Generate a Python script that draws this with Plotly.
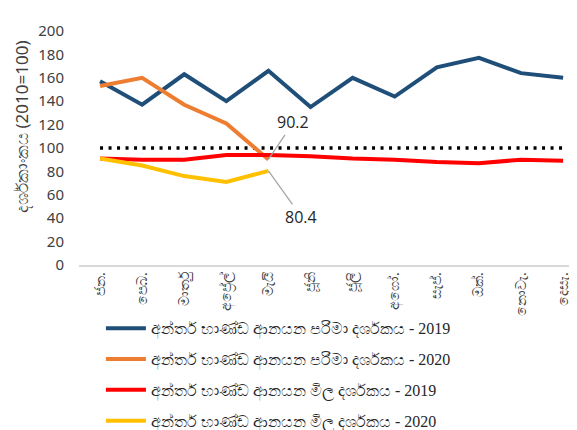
import plotly.graph_objects as go

months = ["ජන.", "පෙබ.", "මාර්තු", "අප්‍රේල්", "මැයි", "ජූනි", "ජූලි", "අගෝ.", "සැප්.", "ඔක්.", "නොවැ.", "දෙසැ."]
vol_2019 = [157, 137, 163, 140, 166, 135, 160, 144, 169, 177, 164, 160]
vol_2020 = [153, 160, 137, 121, 90.2]
price_2019 = [91, 90, 90, 94, 94, 93, 91, 90, 88, 87, 90, 89]
price_2020 = [91, 85, 76, 71, 80.4]
base_line = [100] * 12
y_title = "දර්ශකාංකය (2010=100)"

names = [
    "අන්තර් භාණ්ඩ ආනයන පරිමා දර්ශකය - 2019",
    "අන්තර් භාණ්ඩ ආනයන පරිමා දර්ශකය - 2020",
    "අන්තර් භාණ්ඩ ආනයන මිල දර්ශකය - 2019",
    "අන්තර් භාණ්ඩ ආනයන මිල දර්ශකය - 2020",
]
colors = ["#1F4E79", "#ED7D31", "#FF0000", "#FFC000"]

fig = go.Figure()
fig.add_trace(go.Scatter(x=months, y=base_line, mode="lines", showlegend=False,
                         line=dict(color="black", width=3.5, dash="3px,5.5px"), hoverinfo="skip"))
series = [vol_2019, vol_2020, price_2019, price_2020]
for i, (s, n, c) in enumerate(zip(series, names, colors)):
    fig.add_trace(go.Scatter(x=months[:len(s)], y=s, mode="lines", name=n,
                             legendgroup=str(i),
                             line=dict(color=c, width=4)))

fig.add_annotation(x=months[4], y=vol_2020[4], text="90.2", showarrow=True, arrowhead=0,
                   arrowcolor="#A6A6A6", arrowwidth=1.3, ax=25, ay=-37,
                   font=dict(size=16, color="#262626", family="Open Sans"))
fig.add_annotation(x=months[4], y=price_2020[4], text="80.4", showarrow=True, arrowhead=0,
                   arrowcolor="#A6A6A6", arrowwidth=1.3, ax=33, ay=46,
                   font=dict(size=16, color="#262626", family="Open Sans"))
fig.add_annotation(x=-0.1145, y=0.59, xref="paper", yref="paper", text=y_title,
                   textangle=-90, showarrow=False, xanchor="center", yanchor="middle",
                   font=dict(size=17, color="#404040", family="Noto Sans, Open Sans"))

fig.update_layout(
    width=569, height=422,
    margin=dict(l=71, r=0, t=23, b=165, autoexpand=False),
    plot_bgcolor="white", paper_bgcolor="white",
    font=dict(family="Noto Sans, Open Sans", color="#404040"),
    xaxis=dict(type="category", range=[-0.5, 11.33], showgrid=False, showline=True,
               linecolor="#D9D9D9", linewidth=1.5, tickangle=-90, ticks="", automargin=False,
               tickfont=dict(size=14, color="#404040")),
    yaxis=dict(range=[0, 200], dtick=20, showgrid=False, showline=False, zeroline=False,
               ticks="", automargin=False, ticklabelstandoff=14,
               tickfont=dict(size=15, color="#404040")),
    legend=dict(x=0.044, y=-0.198, xanchor="left", yanchor="top", traceorder="grouped",
                tracegroupgap=7, font=dict(size=16, family="Liberation Serif", color="#262626"),
                itemwidth=40),
)

fig.write_html("out.html")
